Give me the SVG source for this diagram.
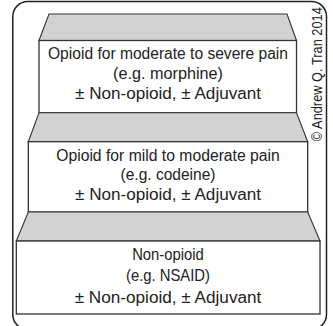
<svg xmlns="http://www.w3.org/2000/svg" width="333" height="326" viewBox="0 0 333 326">
  <style>
    .frame { fill: #ffffff; stroke: #222222; stroke-width: 1.5; }
    .riser { fill: #d2d2d2; stroke: #333333; stroke-width: 1.1; stroke-linejoin: miter; }
    .step { fill: #ffffff; stroke: #333333; stroke-width: 1.3; }
    .label { font-family: "Liberation Sans", Arial, sans-serif; font-size: 17.3px; fill: #222222; text-anchor: middle; }
    .credit { font-family: "Liberation Sans", Arial, sans-serif; font-size: 14.5px; fill: #222222; text-anchor: middle; }
  </style>
  <rect width="333" height="326" fill="#ffffff"/>
  <rect class="frame" x="12.8" y="1.5" width="313.7" height="328" rx="15" ry="15"/>

  <g id="step3">
    <polygon class="riser" points="49,14 287,14 296.5,40.5 39,40.5"/>
    <rect class="step" x="39" y="40.5" width="257.5" height="72.2"/>
    <text class="label" x="168" y="59.2" textLength="240" lengthAdjust="spacingAndGlyphs">Opioid for moderate to severe pain</text>
    <text class="label" x="168" y="79.2" textLength="110" lengthAdjust="spacingAndGlyphs">(e.g. morphine)</text>
    <text class="label" x="168" y="99.2" textLength="186" lengthAdjust="spacingAndGlyphs">± Non-opioid, ± Adjuvant</text>
  </g>

  <g id="step2">
    <polygon class="riser" points="39,112.7 296.5,112.7 307.7,141.7 28.3,141.7"/>
    <rect class="step" x="28.3" y="141.7" width="279.4" height="70.3"/>
    <text class="label" x="168" y="160.7" textLength="223.6" lengthAdjust="spacingAndGlyphs">Opioid for mild to moderate pain</text>
    <text class="label" x="168" y="180.2" textLength="95" lengthAdjust="spacingAndGlyphs">(e.g. codeine)</text>
    <text class="label" x="168" y="199.7" textLength="186" lengthAdjust="spacingAndGlyphs">± Non-opioid, ± Adjuvant</text>
  </g>

  <g id="step1">
    <polygon class="riser" points="28.3,212 307.7,212 320,241 16.3,241"/>
    <rect class="step" x="16.3" y="241" width="303.7" height="73"/>
    <text class="label" x="168" y="259.8" textLength="71.7" lengthAdjust="spacingAndGlyphs">Non-opioid</text>
    <text class="label" x="168" y="281.3" textLength="84" lengthAdjust="spacingAndGlyphs">(e.g. NSAID)</text>
    <text class="label" x="168" y="302.8" textLength="186.7" lengthAdjust="spacingAndGlyphs">± Non-opioid, ± Adjuvant</text>
  </g>

  <g id="credit">
    <text class="credit" transform="translate(321.6,74.2) rotate(-90)" x="0" y="0" textLength="134" lengthAdjust="spacingAndGlyphs">© Andrew Q. Tran 2014</text>
  </g>
</svg>
